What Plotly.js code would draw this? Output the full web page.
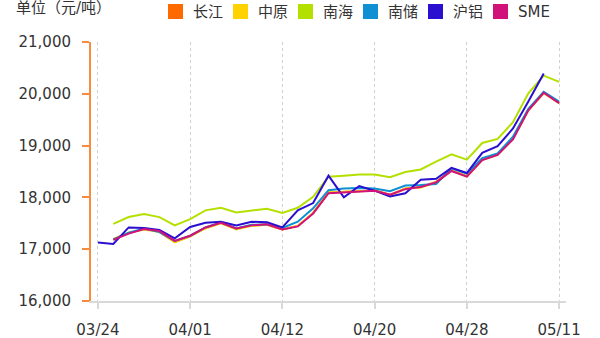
<!DOCTYPE html>
<html>
<head>
<meta charset="utf-8">
<script src="https://cdn.plot.ly/plotly-3.0.1.min.js"></script>
<style>
  html, body { margin: 0; padding: 0; background: #ffffff; }
  #chart { width: 600px; height: 338px; }
</style>
</head>
<body>
<div id="chart"></div>
<script>
// Trading days, 2021
const dates = ['03/24','03/25','03/26','03/29','03/30','03/31','04/01','04/02','04/06','04/07',
               '04/08','04/09','04/12','04/13','04/14','04/15','04/16','04/19','04/20','04/21',
               '04/22','04/23','04/26','04/27','04/28','04/29','04/30','05/06','05/07','05/10','05/11'];
const tickLabels = ['03/24','04/01','04/12','04/20','04/28','05/11'];
const yTicks = [16000, 17000, 18000, 19000, 20000, 21000];

// Aluminium prices, yuan per tonne
const changjiang = [null,17190,17310,17390,17340,17140,17250,17410,17510,17390,
                    17460,17470,17380,17450,17700,18090,18110,18120,18140,18050,
                    18170,18200,18300,18520,18410,18730,18830,19140,19690,20030,19830];
const zhongyuan  = [null,17200,17320,17380,17330,17130,17250,17400,17500,17380,
                    17450,17470,17380,17450,17700,18100,18110,18130,18130,18040,
                    18170,18190,18290,18520,18400,18720,18820,19130,19680,20010,19820];
const nanhai     = [null,17490,17620,17680,17620,17460,17580,17750,17800,17710,
                    17750,17780,17700,17800,18010,18400,18420,18440,18440,18390,
                    18490,18540,18690,18830,18730,19050,19130,19450,20010,20350,20230];
const nanchu     = [null,17190,17320,17400,17330,17160,17260,17420,17520,17400,
                    17470,17480,17410,17530,17790,18140,18170,18180,18170,18120,
                    18230,18240,18260,18560,18460,18760,18850,19170,19710,20040,19850];
const hulv       = [17130,17100,17420,17410,17370,17210,17430,17510,17530,17460,
                    17530,17520,17420,17750,17890,18420,18000,18220,18130,18020,
                    18080,18340,18360,18570,18470,18860,18990,19330,19850,20390,null];
const sme        = [null,17180,17300,17390,17350,17160,17260,17420,17510,17400,
                    17460,17480,17380,17440,17690,18080,18100,18120,18130,18050,
                    18160,18200,18290,18510,18400,18720,18820,19120,19680,20020,19820];

const seriesNames  = ['长江', '中原', '南海', '南储', '沪铝', 'SME'];
const seriesValues = [changjiang, zhongyuan, nanhai, nanchu, hulv, sme];
const seriesColors = ['#ff6a00', '#ffd200', '#b4e000', '#0e90d2', '#2a0fd0', '#d0127a'];

const FONT = 'DejaVu Sans, Noto Sans CJK SC, sans-serif';
const W = 600, H = 338;
const M = { l: 91, r: 34, t: 42, b: 37 };

const traces = seriesNames.map((name, i) => ({
  type: 'scatter',
  mode: 'lines',
  name: name,
  x: dates,
  y: seriesValues[i],
  connectgaps: false,
  line: { color: seriesColors[i], width: 2 },
  showlegend: false,
  hoverinfo: 'skip'
}));

// pixel -> paper helpers for the hand-laid legend and unit label
const px = v => (v - M.l) / (W - M.l - M.r);
const py = v => (H - M.b - v) / (H - M.t - M.b);

const shapes = [];
const annotations = [{
  text: '单位（元/吨）', xref: 'paper', yref: 'paper',
  x: px(14), y: py(8), xanchor: 'left', yanchor: 'middle',
  showarrow: false, font: { family: FONT, size: 15, color: '#333333' }
}];

seriesNames.forEach((name, i) => {
  const left = 168 + 65 * i;
  shapes.push({
    type: 'rect', xref: 'paper', yref: 'paper',
    x0: px(left), x1: px(left + 15), y0: py(19), y1: py(4),
    fillcolor: seriesColors[i], line: { width: 0 }
  });
  annotations.push({
    text: name, xref: 'paper', yref: 'paper',
    x: px(left + 23), y: py(12), xanchor: 'left', yanchor: 'middle',
    showarrow: false, font: { family: FONT, size: 15, color: '#333333' }
  });
});

const layout = {
  width: W, height: H,
  margin: M,
  paper_bgcolor: '#ffffff',
  plot_bgcolor: '#ffffff',
  font: { family: FONT, size: 15, color: '#333333' },
  showlegend: false,
  xaxis: {
    type: 'category',
    categoryorder: 'array',
    categoryarray: dates,
    range: [-0.45, 30.45],
    tickmode: 'array',
    tickvals: tickLabels,
    ticktext: tickLabels,
    showgrid: true,
    gridcolor: '#d0d0d0',
    griddash: '3px,3px',
    gridwidth: 1,
    showline: true,
    linecolor: '#d9d9d9',
    linewidth: 2,
    ticks: 'outside',
    ticklen: 6,
    tickcolor: '#d9d9d9',
    tickwidth: 2,
    ticklabelstandoff: 8,
    tickfont: { family: FONT, size: 15, color: '#333333' },
    zeroline: false,
    fixedrange: true
  },
  yaxis: {
    range: [16000, 21000],
    tickmode: 'array',
    tickvals: yTicks,
    tickformat: ',d',
    showgrid: false,
    showline: true,
    linecolor: '#f98b3f',
    linewidth: 2,
    ticks: 'outside',
    ticklen: 7,
    tickcolor: '#f98b3f',
    tickwidth: 2,
    ticklabelstandoff: 8,
    tickfont: { family: FONT, size: 15, color: '#333333' },
    zeroline: false,
    fixedrange: true
  },
  shapes: shapes,
  annotations: annotations
};

Plotly.newPlot('chart', traces, layout, { displayModeBar: false, staticPlot: true });
</script>
</body>
</html>
